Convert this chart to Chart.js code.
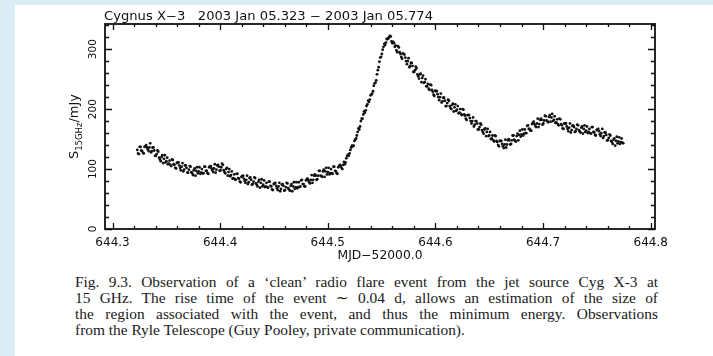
<!DOCTYPE html>
<html>
<head>
<meta charset="utf-8">
<script src="https://cdn.jsdelivr.net/npm/chart.js@4.4.1/dist/chart.umd.min.js"></script>
<style>
html, body { margin: 0; padding: 0; }
body { width: 713px; height: 356px; background: #dcedf5; position: relative; overflow: hidden; }
#page { position: absolute; left: 15px; top: 5px; right: 0; bottom: 0; background: #fff; }
#c { position: absolute; left: 0; top: 0; }
#caption { position: absolute; left: 75px; top: 274px; width: 583px;
  font-family: "Liberation Serif", "DejaVu Serif", serif; font-size: 15.4px; line-height: 16px; color: #1a1a1a; }
#caption div { white-space: nowrap; }
</style>
</head>
<body>
<div id="page"></div>
<canvas id="c" width="713" height="262"></canvas>
<div id="caption">
  <div class="j"><span>Fig. 9.3. Observation of a ‘clean’ radio flare event from the jet source Cyg X-3 at</span></div>
  <div class="j"><span>15 GHz. The rise time of the event ∼ 0.04 d, allows an estimation of the size of</span></div>
  <div class="j"><span>the region associated with the event, and thus the minimum energy. Observations</span></div>
  <div><span>from the Ryle Telescope (Guy Pooley, private communication).</span></div>
</div>
<script>
// --- DATA (MJD-52000 vs flux in mJy) ---
// first pass of readings
const mjd = [
  644.3230,644.3245,644.3260,644.3275,644.3290,644.3305,644.3320,644.3335,644.3350,644.3365,
  644.3380,644.3395,644.3410,644.3425,644.3440,644.3455,644.3470,644.3485,644.3500,644.3515,
  644.3530,644.3545,644.3560,644.3575,644.3590,644.3605,644.3620,644.3635,644.3650,644.3665,
  644.3680,644.3695,644.3710,644.3725,644.3740,644.3755,644.3770,644.3785,644.3800,644.3815,
  644.3830,644.3845,644.3860,644.3875,644.3890,644.3905,644.3920,644.3935,644.3950,644.3965,
  644.3980,644.3995,644.4010,644.4025,644.4040,644.4055,644.4070,644.4085,644.4100,644.4115,
  644.4130,644.4145,644.4160,644.4175,644.4190,644.4205,644.4220,644.4235,644.4250,644.4265,
  644.4280,644.4295,644.4310,644.4325,644.4340,644.4355,644.4370,644.4385,644.4400,644.4415,
  644.4430,644.4445,644.4460,644.4475,644.4490,644.4505,644.4520,644.4535,644.4550,644.4565,
  644.4580,644.4595,644.4610,644.4625,644.4640,644.4655,644.4670,644.4685,644.4700,644.4715,
  644.4730,644.4745,644.4760,644.4775,644.4790,644.4805,644.4820,644.4835,644.4850,644.4865,
  644.4880,644.4895,644.4910,644.4925,644.4940,644.4955,644.4970,644.4985,644.5000,644.5015,
  644.5030,644.5045,644.5060,644.5075,644.5090,644.5105,644.5120,644.5135,644.5150,644.5165,
  644.5180,644.5195,644.5210,644.5225,644.5240,644.5255,644.5270,644.5285,644.5300,644.5315,
  644.5330,644.5345,644.5360,644.5375,644.5390,644.5405,644.5420,644.5435,644.5450,644.5465,
  644.5480,644.5495,644.5510,644.5525,644.5540,644.5555,644.5570,644.5585,644.5600,644.5615,
  644.5630,644.5645,644.5660,644.5675,644.5690,644.5705,644.5720,644.5735,644.5750,644.5765,
  644.5780,644.5795,644.5810,644.5825,644.5840,644.5855,644.5870,644.5885,644.5900,644.5915,
  644.5930,644.5945,644.5960,644.5975,644.5990,644.6005,644.6020,644.6035,644.6050,644.6065,
  644.6080,644.6095,644.6110,644.6125,644.6140,644.6155,644.6170,644.6185,644.6200,644.6215,
  644.6230,644.6245,644.6260,644.6275,644.6290,644.6305,644.6320,644.6335,644.6350,644.6365,
  644.6380,644.6395,644.6410,644.6425,644.6440,644.6455,644.6470,644.6485,644.6500,644.6515,
  644.6530,644.6545,644.6560,644.6575,644.6590,644.6605,644.6620,644.6635,644.6650,644.6665,
  644.6680,644.6695,644.6710,644.6725,644.6740,644.6755,644.6770,644.6785,644.6800,644.6815,
  644.6830,644.6845,644.6860,644.6875,644.6890,644.6905,644.6920,644.6935,644.6950,644.6965,
  644.6980,644.6995,644.7010,644.7025,644.7040,644.7055,644.7070,644.7085,644.7100,644.7115,
  644.7130,644.7145,644.7160,644.7175,644.7190,644.7205,644.7220,644.7235,644.7250,644.7265,
  644.7280,644.7295,644.7310,644.7325,644.7340,644.7355,644.7370,644.7385,644.7400,644.7415,
  644.7430,644.7445,644.7460,644.7475,644.7490,644.7505,644.7520,644.7535,644.7550,644.7565,
  644.7580,644.7595,644.7610,644.7625,644.7640,644.7655,644.7670,644.7685,644.7700,644.7715,
  644.7730,644.7745
];
const flux = [
  132,125,137,130,126,138,136,130,143,130,
  136,122,125,129,116,120,110,123,113,108,
  114,105,115,107,101,111,106,98,110,99,
  106,94,99,104,93,98,89,103,96,92,
  100,93,104,97,92,104,101,95,108,99,
  107,97,103,107,95,100,89,100,90,84,
  91,82,92,84,78,88,84,77,89,78,
  86,74,79,85,74,79,69,83,74,70,
  77,69,79,71,65,76,72,65,77,67,
  75,64,70,76,66,72,63,78,70,68,
  78,71,82,75,71,83,81,76,90,82,
  91,82,89,97,88,96,87,102,95,91,
  100,92,104,96,92,105,105,100,112,111,
  122,122,132,139,139,149,156,168,171,184,
  191,194,205,214,216,224,230,243,248,265,
  279,287,299,309,311,317,320,321,310,310,
  306,295,303,292,284,292,286,275,285,272,
  277,262,265,268,255,258,245,256,245,238,
  242,232,240,229,222,230,225,215,226,213,
  219,205,210,214,202,207,196,208,199,193,
  200,190,199,189,182,190,185,176,186,174,
  180,166,170,174,162,166,155,167,156,150,
  156,146,155,145,138,147,142,135,149,141,
  150,141,148,156,147,155,148,164,158,156,
  166,160,173,167,164,177,175,170,184,175,
  184,174,181,188,180,187,179,192,182,177,
  183,173,183,173,167,176,171,163,176,165,
  173,162,167,173,163,169,159,173,164,160,
  167,159,170,161,156,166,163,155,167,155,
  161,148,152,156,145,149,139,154,146,142,
  151,143
];
// second pass, in between the first
const mjd2 = [
  644.32375,644.32525,644.32675,644.32825,644.32975,644.33125,644.33275,644.33425,644.33575,644.33725,
  644.33875,644.34025,644.34175,644.34325,644.34475,644.34625,644.34775,644.34925,644.35075,644.35225,
  644.35375,644.35525,644.35675,644.35825,644.35975,644.36125,644.36275,644.36425,644.36575,644.36725,
  644.36875,644.37025,644.37175,644.37325,644.37475,644.37625,644.37775,644.37925,644.38075,644.38225,
  644.38375,644.38525,644.38675,644.38825,644.38975,644.39125,644.39275,644.39425,644.39575,644.39725,
  644.39875,644.40025,644.40175,644.40325,644.40475,644.40625,644.40775,644.40925,644.41075,644.41225,
  644.41375,644.41525,644.41675,644.41825,644.41975,644.42125,644.42275,644.42425,644.42575,644.42725,
  644.42875,644.43025,644.43175,644.43325,644.43475,644.43625,644.43775,644.43925,644.44075,644.44225,
  644.44375,644.44525,644.44675,644.44825,644.44975,644.45125,644.45275,644.45425,644.45575,644.45725,
  644.45875,644.46025,644.46175,644.46325,644.46475,644.46625,644.46775,644.46925,644.47075,644.47225,
  644.47375,644.47525,644.47675,644.47825,644.47975,644.48125,644.48275,644.48425,644.48575,644.48725,
  644.48875,644.49025,644.49175,644.49325,644.49475,644.49625,644.49775,644.49925,644.50075,644.50225,
  644.50375,644.50525,644.50675,644.50825,644.50975,644.51125,644.51275,644.51425,644.51575,644.51725,
  644.51875,644.52025,644.52175,644.52325,644.52475,644.52625,644.52775,644.52925,644.53075,644.53225,
  644.53375,644.53525,644.53675,644.53825,644.53975,644.54125,644.54275,644.54425,644.54575,644.54725,
  644.54875,644.55025,644.55175,644.55325,644.55475,644.55625,644.55775,644.55925,644.56075,644.56225,
  644.56375,644.56525,644.56675,644.56825,644.56975,644.57125,644.57275,644.57425,644.57575,644.57725,
  644.57875,644.58025,644.58175,644.58325,644.58475,644.58625,644.58775,644.58925,644.59075,644.59225,
  644.59375,644.59525,644.59675,644.59825,644.59975,644.60125,644.60275,644.60425,644.60575,644.60725,
  644.60875,644.61025,644.61175,644.61325,644.61475,644.61625,644.61775,644.61925,644.62075,644.62225,
  644.62375,644.62525,644.62675,644.62825,644.62975,644.63125,644.63275,644.63425,644.63575,644.63725,
  644.63875,644.64025,644.64175,644.64325,644.64475,644.64625,644.64775,644.64925,644.65075,644.65225,
  644.65375,644.65525,644.65675,644.65825,644.65975,644.66125,644.66275,644.66425,644.66575,644.66725,
  644.66875,644.67025,644.67175,644.67325,644.67475,644.67625,644.67775,644.67925,644.68075,644.68225,
  644.68375,644.68525,644.68675,644.68825,644.68975,644.69125,644.69275,644.69425,644.69575,644.69725,
  644.69875,644.70025,644.70175,644.70325,644.70475,644.70625,644.70775,644.70925,644.71075,644.71225,
  644.71375,644.71525,644.71675,644.71825,644.71975,644.72125,644.72275,644.72425,644.72575,644.72725,
  644.72875,644.73025,644.73175,644.73325,644.73475,644.73625,644.73775,644.73925,644.74075,644.74225,
  644.74375,644.74525,644.74675,644.74825,644.74975,644.75125,644.75275,644.75425,644.75575,644.75725,
  644.75875,644.76025,644.76175,644.76325,644.76475,644.76625,644.76775,644.76925,644.77075,644.77225,
  644.77375
];
const flux2 = [
  126,137,131,127,137,140,133,136,128,136,
  131,122,131,119,113,123,117,111,119,109,
  107,116,108,102,110,111,102,104,96,106,
  102,94,105,95,90,101,97,93,103,94,
  93,104,97,93,103,105,98,101,94,106,
  104,98,109,98,93,102,95,88,96,85,
  83,92,85,79,87,89,80,82,75,85,
  82,75,86,76,71,82,77,71,81,71,
  70,79,72,66,75,77,68,71,63,74,
  72,65,77,68,64,75,71,67,78,70,
  70,81,75,71,81,84,78,82,77,89,
  89,83,97,89,87,99,96,91,102,93,
  93,104,97,93,103,107,102,107,108,118,
  124,126,136,138,147,151,162,166,180,184,
  196,198,208,212,223,226,239,244,258,270,
  286,292,304,307,317,318,322,313,312,304,
  298,305,295,287,293,291,280,280,270,277,
  272,262,271,258,251,259,252,244,250,238,
  234,241,232,224,231,230,220,220,211,219,
  214,205,216,205,200,209,203,197,205,194,
  192,200,191,184,190,190,180,180,171,180,
  176,166,176,165,159,168,162,155,162,151,
  148,156,147,140,147,147,138,141,136,148,
  148,142,156,149,146,159,157,154,166,159,
  160,172,167,164,175,179,172,176,170,182,
  182,176,189,181,178,190,186,180,188,178,
  175,184,175,168,176,176,167,169,161,172,
  170,163,174,165,161,171,167,162,171,162,
  160,170,162,157,165,167,158,160,152,161,
  157,148,158,147,142,151,147,143,153,145,
  144
];
const xTicks = [644.3, 644.4, 644.5, 644.6, 644.7, 644.8];
const yTicks = [0, 100, 200, 300];
const xLabels = ['644.3', '644.4', '644.5', '644.6', '644.7', '644.8'];
const yLabels = ['0', '100', '200', '300'];
const title = 'Cygnus X\u22123   2003 Jan 05.323 \u2212 2003 Jan 05.774';
const xTitle = 'MJD\u221252000.0';

const FONT = '"DejaVu Sans", sans-serif';

function text(ctx, s, x, y, size, align, width) {
  ctx.save();
  ctx.font = size + 'px ' + FONT;
  const w = ctx.measureText(s).width;
  ctx.translate(x, y);
  if (width) ctx.scale(width / w, 1);
  ctx.textAlign = align;
  ctx.fillText(s, 0, 0);
  ctx.restore();
}

// PGPLOT style box: inward ticks on all four sides, labels drawn from the scales
const frame = {
  id: 'frame',
  afterDatasetsDraw(chart) {
    const ctx = chart.ctx, a = chart.chartArea;
    const xs = chart.scales.x, ys = chart.scales.y;
    ctx.save();
    ctx.strokeStyle = '#111';
    ctx.fillStyle = '#111';
    ctx.lineWidth = 1.3;
    for (let v = 644.30; v <= 644.801; v += 0.02) {
      const px = Math.round(xs.getPixelForValue(v)) + 0.5;
      const major = xTicks.some(t => Math.abs(t - v) < 1e-6);
      const len = major ? 6 : 3;
      ctx.beginPath();
      ctx.moveTo(px, a.bottom); ctx.lineTo(px, a.bottom - len);
      ctx.moveTo(px, a.top); ctx.lineTo(px, a.top + len);
      ctx.stroke();
    }
    for (let v = 0; v <= 340; v += 20) {
      const py = Math.round(ys.getPixelForValue(v)) + 0.5;
      const major = yTicks.includes(v);
      const len = major ? 7 : 4;
      ctx.beginPath();
      ctx.moveTo(a.left, py); ctx.lineTo(a.left + len, py);
      ctx.moveTo(a.right, py); ctx.lineTo(a.right - len, py);
      ctx.stroke();
    }
    ctx.lineWidth = 1.8;
    ctx.strokeRect(a.left, a.top, a.right - a.left, a.bottom - a.top);

    xTicks.forEach((v, i) => text(ctx, xLabels[i], xs.getPixelForValue(v), a.bottom + 17, 12, 'center'));
    text(ctx, xTitle, (a.left + a.right) / 2, a.bottom + 30, 11.5, 'center', 85);
    text(ctx, title, a.left - 1, a.top - 4, 11.5, 'left', 329);

    // y labels, rotated
    ctx.font = '10.5px ' + FONT;
    ctx.textAlign = 'center';
    yTicks.forEach((v, i) => {
      ctx.save();
      ctx.translate(a.left - 9.5, ys.getPixelForValue(v));
      ctx.rotate(-Math.PI / 2);
      ctx.fillText(yLabels[i], 0, 0);
      ctx.restore();
    });

    // y title S_15GHz / mJy
    const parts = [['S', 13, 0], ['15GHz', 8.5, 3.5], ['/mJy', 13, 0]];
    let total = 0;
    parts.forEach(p => { ctx.font = p[1] + 'px ' + FONT; p.push(ctx.measureText(p[0]).width); total += p[3]; });
    ctx.save();
    ctx.translate(78, (a.top + a.bottom) / 2);
    ctx.rotate(-Math.PI / 2);
    ctx.textAlign = 'left';
    let off = -total / 2;
    parts.forEach(p => {
      ctx.font = p[1] + 'px ' + FONT;
      ctx.fillText(p[0], off, p[2]);
      off += p[3];
    });
    ctx.restore();
    ctx.restore();
  }
};

const points = mjd.map((t, i) => ({ x: t, y: flux[i] }))
  .concat(mjd2.map((t, i) => ({ x: t, y: flux2[i] })));

new Chart(document.getElementById('c'), {
  type: 'scatter',
  data: {
    datasets: [{
      data: points,
      pointRadius: 1.4,
      pointHoverRadius: 0,
      backgroundColor: '#111',
      borderWidth: 0
    }]
  },
  options: {
    responsive: false,
    animation: false,
    events: [],
    layout: { padding: { left: 105, right: 58, top: 24, bottom: 33 } },
    plugins: { legend: { display: false }, tooltip: { enabled: false } },
    scales: {
      x: { type: 'linear', min: 644.293, max: 644.804, display: false },
      y: { type: 'linear', min: 0, max: 342, display: false }
    }
  },
  plugins: [frame]
});

// justify the caption lines to the same right edge
document.querySelectorAll('#caption .j').forEach(d => {
  const span = d.querySelector('span');
  const w = span.getBoundingClientRect().width;
  const gaps = span.textContent.split(' ').length - 1;
  span.style.wordSpacing = ((583 - w) / gaps) + 'px';
});
</script>
</body>
</html>
